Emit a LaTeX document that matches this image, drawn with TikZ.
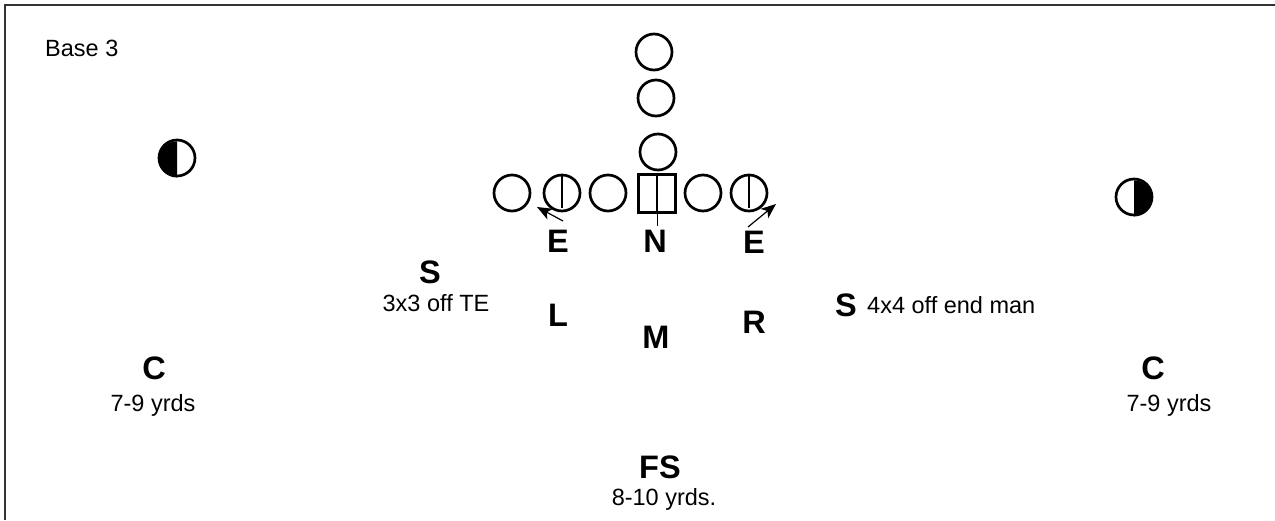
\documentclass[tikz,border=0pt]{standalone}
\usepackage{fontspec}
\setmainfont{Liberation Sans}
\usetikzlibrary{arrows.meta}
\begin{document}
\begin{tikzpicture}[x=1pt,y=-1pt,
  player/.style={circle,draw,line width=2.7pt,minimum size=36pt,inner sep=0pt},
  ctrbox/.style={draw,line width=2.7pt,minimum width=37pt,minimum height=38pt,inner sep=0pt},
  big/.style={inner sep=0pt,anchor=base,font=\fontsize{32.5}{38}\selectfont\bfseries},
  small/.style={inner sep=0pt,anchor=base,font=\fontsize{23.5}{28}\selectfont},
  stemline/.style={line width=2.7pt},
  movearrow/.style={line width=1.2pt,-{Stealth[length=15pt,width=12pt,inset=4pt]}}
]
\useasboundingbox (0,0) rectangle (1275,520);
% frame
\coordinate (fr1) at (1275,5);
\coordinate (fr2) at (5,5);
\coordinate (fr3) at (5,520);
\draw[line width=2pt,black!80] (fr1) -- (fr2) -- (fr3);

\node[small,anchor=base west] (title) at (45,56.5) {Base 3};

% backfield
\node[player] (b1) at (654,52) {};
\node[player] (b2) at (656,98) {};
\node[player] (b3) at (658,152) {};

% line
\node[player] (ol1) at (512,193) {};
\node[player] (ol2) at (562,193) {};
\node[player] (ol3) at (608,193) {};
\node[ctrbox] (ctr) at (657,193.5) {};
\node[player] (ol4) at (703,193) {};
\node[player] (ol5) at (749,193) {};
\draw[stemline] (ol2.north) -- ++(0,34);
\draw[stemline] (ol5.north) -- ++(0,34);
\draw[stemline] (ctr.north) -- (ctr.south);
\draw[line width=1pt] (ctr.south) -- ++(0,12);

% receivers
\node[player] (wl) at (177,158) {};
\fill (wl.south) arc[start angle=90,end angle=270,radius=18] -- cycle;
\node[player] (wr) at (1134,197) {};
\fill (wr.south) arc[start angle=90,end angle=-90,radius=18] -- cycle;

% defense
\node[big] (el) at (558,252) {E};
\node[big] (nt) at (655,252) {N};
\node[big] (er) at (754,253) {E};
\coordinate (a1s) at (563,221);
\coordinate (a1e) at (537,207);
\draw[movearrow] (a1s) -- (a1e);
\coordinate (a2s) at (748,227);
\coordinate (a2e) at (776,204);
\draw[movearrow] (a2s) -- (a2e);

\node[big] (sl) at (430,283) {S};
\node[small] (sltxt) at (436,311.5) {3x3 off TE};
\node[big] (lb) at (558,326) {L};
\node[big] (mb) at (656,348) {M};
\node[big] (rb) at (754,333) {R};
\node[big] (sr) at (846,316) {S};
\node[small,anchor=base west] (srtxt) at (867,313) {4x4 off end man};

\node[big] (cl) at (154,379) {C};
\node[small] (cltxt) at (153,411.5) {7-9 yrds};
\node[big] (cr) at (1153,379) {C};
\node[small] (crtxt) at (1169,411.5) {7-9 yrds};

\node[big] (fs) at (660,478) {FS};
\node[small] (fstxt) at (664,505.5) {8-10 yrds.};
\end{tikzpicture}
\end{document}
